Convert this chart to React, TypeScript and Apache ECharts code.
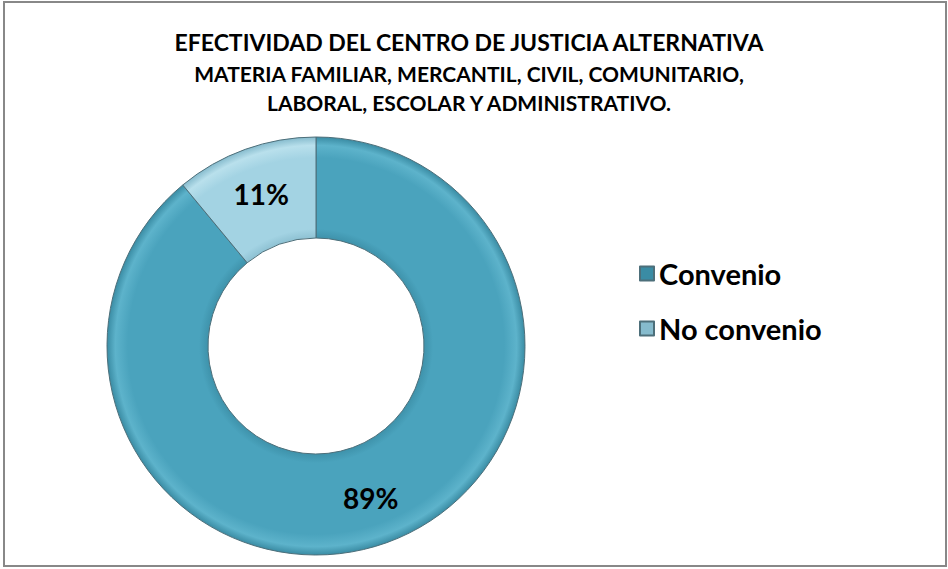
import React, { useEffect, useRef } from "react";
import * as echarts from "echarts";

const categories = ["Convenio", "No convenio"];
const values = [89, 11];
const titleLines = [
  "EFECTIVIDAD DEL CENTRO DE JUSTICIA ALTERNATIVA",
  "MATERIA FAMILIAR, MERCANTIL, CIVIL, COMUNITARIO,",
  "LABORAL, ESCOLAR Y ADMINISTRATIVO.",
];

const FONT = "Lato, 'Open Sans', sans-serif";

export default function App() {
  const ref = useRef<HTMLDivElement>(null);
  useEffect(() => {
    if (!ref.current) return;
    const chart = echarts.init(ref.current, null, { renderer: "svg" });
    const cx = 316;
    const cy = 346;
    const grad = (base: string, dark: string, light: string) => ({
      type: "radial",
      x: cx,
      y: cy,
      r: 209,
      global: true,
      colorStops: [
        { offset: 0.5, color: dark },
        { offset: 0.56, color: base },
        { offset: 0.9, color: base },
        { offset: 0.96, color: light },
        { offset: 1, color: dark },
      ],
    });
    const colors = [
      grad("#4AA3BD", "#3A8CA4", "#5DB3CB"),
      grad("#A3D3E3", "#86BBCD", "#B9E0EC"),
    ];
    const lineYs = [42, 73, 102];
    const lineSizes = [23, 21, 21];
    chart.setOption({
      animation: false,
      backgroundColor: "#ffffff",
      graphic: [
        {
          type: "rect",
          shape: { x: 4, y: 2, width: 942, height: 564 },
          style: { fill: "none", stroke: "#888888", lineWidth: 2 },
          silent: true,
        },
        ...titleLines.map((t, i) => ({
          type: "text",
          x: 469,
          y: lineYs[i],
          style: {
            text: t,
            fill: "#000000",
            font: `bold ${lineSizes[i]}px ${FONT}`,
            textAlign: "center",
            textVerticalAlign: "middle",
          },
        })),
      ],
      legend: {
        orient: "vertical",
        left: 634,
        top: 252,
        itemWidth: 14,
        itemHeight: 14,
        itemGap: 22,
        icon: "rect",
        data: categories,
        textStyle: {
          fontFamily: FONT,
          fontWeight: "bold",
          fontSize: 29,
          color: "#000000",
          lineHeight: 33,
          padding: [0, 0, 0, 0],
        },
      },
      color: ["#4AA3BD", "#A3D3E3"],
      series: [
        {
          type: "pie",
          center: [cx, cy],
          radius: [108, 209],
          startAngle: 90,
          clockwise: true,
          avoidLabelOverlap: false,
          label: {
            show: true,
            position: "inside",
            formatter: "{d}%",
            fontFamily: FONT,
            fontWeight: "bold",
            fontSize: 28,
            color: "#000000",
          },
          labelLine: { show: false },
          itemStyle: { borderColor: "#4d6f7a", borderWidth: 1 },
          emphasis: { disabled: true },
          data: categories.map((name, i) => ({
            name,
            value: values[i],
            itemStyle: { color: colors[i] },
          })),
        },
      ],
    });
    return () => chart.dispose();
  }, []);
  return (
    <div
      ref={ref}
      style={{ position: "fixed", left: 0, top: 0, width: 948, height: 569 }}
    />
  );
}
